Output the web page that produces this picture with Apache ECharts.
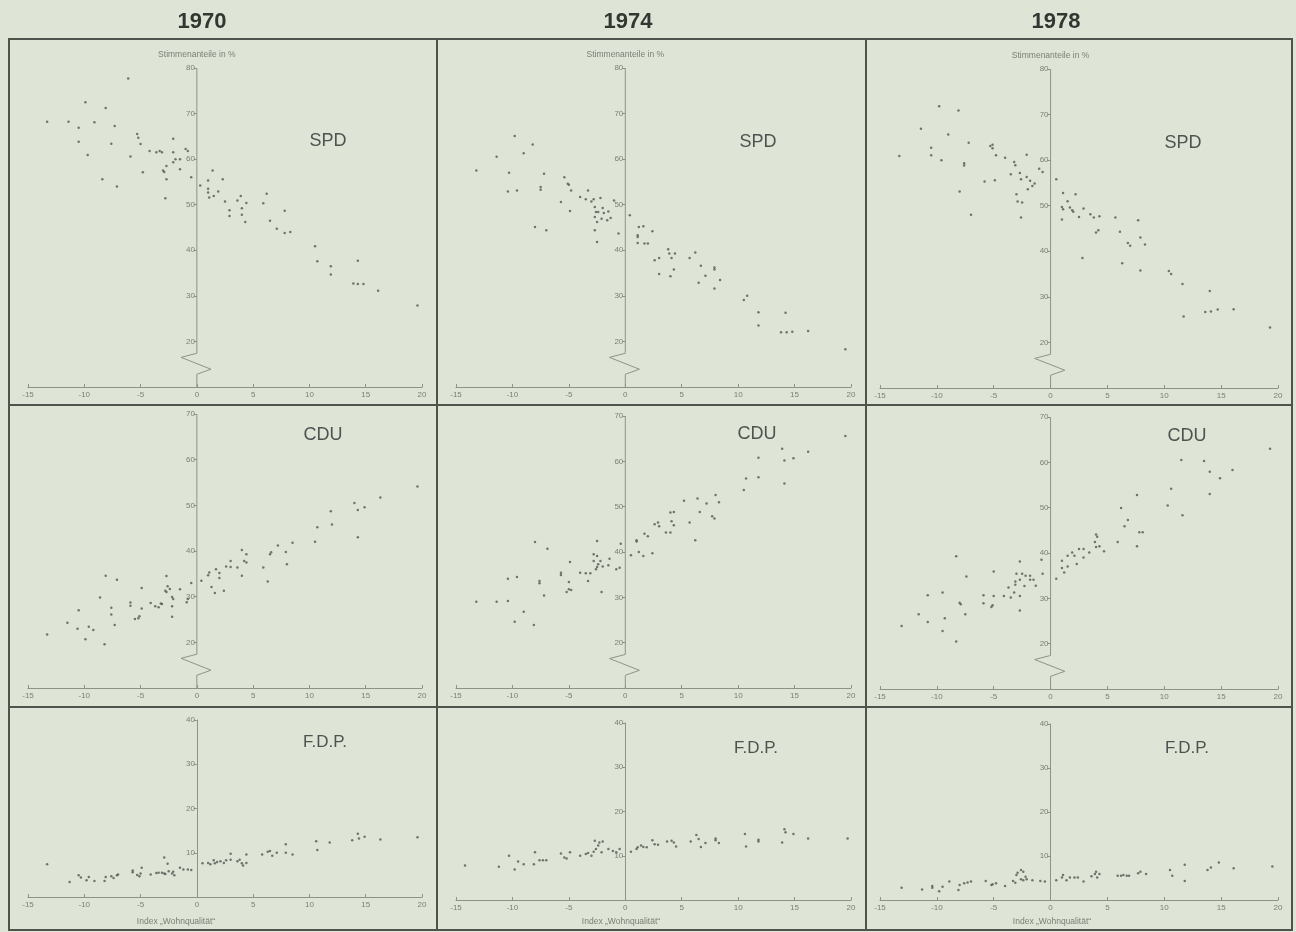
<!DOCTYPE html>
<html><head><meta charset="utf-8">
<script src="https://cdn.jsdelivr.net/npm/echarts@6/dist/echarts.min.js"></script>
<style>html,body{margin:0;padding:0;background:#dee5d6;}#c{width:1296px;height:932px;}</style>
</head><body><div id="c"></div>
<script>
// ---------- DATA ----------
const years = ['1970', '1974', '1978'];
const parties = ['SPD', 'CDU', 'F.D.P.'];
const xTicks = [-15, -10, -5, 0, 5, 10, 15, 20];
const yTicksSPD = [20, 30, 40, 50, 60, 70, 80];
const yTicksCDU = [20, 30, 40, 50, 60, 70];
const yTicksFDP = [10, 20, 30, 40];
const yRangeSPD = [10, 80];
const yRangeCDU = [10, 70];
const yRangeFDP = [0, 40];
const yAxisTitle = 'Stimmenanteile in %';
const xAxisTitle = 'Index \u201EWohnqualit\u00E4t\u201C';
const breakMark = [[0, 17.4], [-1.4, 16.5], [1.25, 13.9], [0, 12.8]];

const spd1970 = [[-13.3,68.2],[-11.4,68.2],[-10.5,66.9],[-10.5,63.8],[-9.9,72.5],[-9.7,60.9],[-9.1,68.1],[-8.4,55.6],[-8.1,71.2],[-7.6,63.4],[-7.3,67.3],[-7.1,54.0],[-6.1,77.7],[-5.9,60.6],[-5.3,65.5],[-5.2,64.7],[-5.0,63.3],[-4.8,57.1],[-4.2,61.8],[-3.6,61.5],[-3.3,61.8],[-3.1,61.5],[-3.0,57.5],[-2.9,57.2],[-2.7,58.5],[-2.7,55.6],[-2.8,51.4],[-2.1,64.5],[-2.1,59.3],[-2.1,61.5],[-1.9,60.0],[-1.5,57.8],[-1.5,60.0],[-1.0,62.2],[-0.8,61.8],[-0.5,56.0],[0.3,54.2],[1.0,55.3],[1.0,53.5],[1.0,52.7],[1.1,51.6],[1.4,57.5],[1.5,51.9],[1.9,52.9],[2.3,55.6],[2.5,50.7],[2.9,48.8],[2.9,47.5],[3.6,50.9],[3.9,51.9],[4.0,49.2],[4.0,47.8],[4.3,46.2],[4.4,50.4],[5.9,50.3],[6.2,52.4],[6.5,46.5],[7.1,44.7],[7.8,48.7],[7.8,43.8],[8.3,44.0],[10.5,40.9],[10.7,37.6],[11.9,36.5],[11.9,34.7],[14.3,37.7],[13.9,32.7],[14.3,32.6],[14.8,32.6],[16.1,31.1],[19.6,27.9]];
const spd1974 = [[-13.2,57.5],[-11.4,60.5],[-10.3,57.0],[-10.4,52.9],[-9.8,65.1],[-9.6,53.1],[-9.0,61.3],[-8.2,63.2],[-8.0,45.1],[-7.5,53.3],[-7.5,53.9],[-7.2,56.8],[-7.0,44.4],[-5.7,50.6],[-5.4,56.0],[-5.1,54.6],[-5.0,54.4],[-4.8,53.1],[-4.9,48.6],[-4.0,51.7],[-3.5,51.2],[-3.3,53.1],[-3.0,50.7],[-2.8,51.2],[-2.7,49.5],[-2.7,47.3],[-2.6,48.4],[-2.4,48.4],[-2.5,46.2],[-2.7,44.4],[-2.5,41.8],[-2.2,51.5],[-2.1,46.9],[-2.0,49.3],[-1.9,48.2],[-1.6,46.6],[-1.5,48.5],[-1.3,47.1],[-1.0,50.9],[-0.6,43.7],[0.4,47.7],[1.1,43.3],[1.1,42.9],[1.2,45.1],[1.1,41.6],[1.6,45.3],[1.7,41.5],[2.0,41.5],[2.4,44.2],[2.6,37.8],[3.0,38.3],[3.0,34.8],[3.8,40.2],[3.9,39.3],[4.1,38.3],[4.0,34.3],[4.4,39.3],[4.3,35.8],[5.7,38.3],[6.2,39.5],[6.5,32.9],[6.7,36.6],[7.1,34.4],[7.9,36.2],[7.9,35.8],[7.9,31.6],[8.4,33.5],[10.5,29.1],[10.8,30.0],[11.8,26.4],[11.8,23.5],[13.8,22.0],[14.2,26.3],[14.3,22.0],[14.8,22.1],[16.2,22.3],[19.5,18.3]];
const spd1978 = [[-13.3,60.9],[-11.4,66.9],[-10.5,62.7],[-10.5,61.1],[-9.8,71.8],[-9.6,60.0],[-9.0,65.6],[-8.1,70.9],[-8.0,53.1],[-7.6,59.3],[-7.6,58.8],[-7.2,63.8],[-7.0,48.0],[-5.8,55.3],[-5.3,63.1],[-5.1,63.4],[-5.1,62.6],[-4.9,55.6],[-4.8,61.1],[-4.0,60.5],[-3.5,56.9],[-3.2,59.6],[-3.1,58.9],[-3.0,52.5],[-2.9,50.9],[-2.5,50.7],[-2.7,57.2],[-2.6,55.8],[-2.6,47.4],[-2.1,61.2],[-2.1,56.3],[-2.0,53.6],[-1.8,55.5],[-1.6,54.3],[-1.4,54.9],[-1.0,58.1],[-0.7,57.4],[0.5,55.8],[1.0,49.7],[1.1,49.2],[1.1,52.8],[1.0,47.0],[1.5,51.0],[1.7,49.6],[1.9,49.0],[2.0,48.7],[2.2,52.5],[2.5,47.5],[2.8,38.5],[2.9,49.4],[3.5,48.1],[3.8,47.4],[4.0,44.1],[4.2,44.6],[4.3,47.7],[5.7,47.4],[6.1,44.3],[6.3,37.4],[6.8,41.8],[7.0,41.2],[7.7,46.8],[7.9,43.0],[7.9,35.8],[8.3,41.5],[10.4,35.7],[10.6,35.0],[11.6,32.8],[11.7,25.7],[13.6,26.7],[14.0,31.3],[14.1,26.8],[14.7,27.2],[16.1,27.3],[19.3,23.3]];
const cdu1970 = [[-13.3,21.7],[-11.5,24.3],[-10.6,23.0],[-10.5,27.0],[-9.9,20.7],[-9.6,23.4],[-9.2,22.7],[-8.6,29.8],[-8.2,19.6],[-8.1,34.6],[-7.6,27.6],[-7.6,26.1],[-7.3,23.8],[-7.1,33.7],[-5.9,28.7],[-5.9,28.0],[-5.5,25.1],[-5.2,25.3],[-5.1,25.7],[-4.9,31.9],[-4.9,27.4],[-4.1,28.6],[-3.7,27.9],[-3.4,27.7],[-3.2,28.5],[-3.1,28.4],[-2.8,31.3],[-2.7,31.0],[-2.7,34.5],[-2.6,32.3],[-2.4,31.7],[-2.2,29.9],[-2.1,29.5],[-2.2,27.9],[-2.2,25.6],[-1.5,31.6],[-0.9,28.8],[-0.8,29.5],[-0.5,33.0],[0.4,33.5],[1.0,34.7],[1.1,35.3],[1.3,32.1],[1.6,30.8],[1.7,36.0],[2.0,35.2],[2.0,34.1],[2.4,31.3],[2.6,36.6],[3.0,37.8],[3.0,36.5],[3.6,36.4],[4.0,40.2],[4.0,34.6],[4.2,37.8],[4.4,37.5],[4.4,39.3],[5.9,36.4],[6.3,33.3],[6.5,39.3],[6.6,39.7],[7.2,41.2],[7.9,39.8],[8.0,37.1],[8.5,41.8],[10.5,42.0],[10.7,45.2],[11.9,48.7],[12.0,45.8],[14.0,50.5],[14.3,49.0],[14.3,43.0],[14.9,49.6],[16.3,51.7],[19.6,54.1]];
const cdu1974 = [[-13.2,29.0],[-11.4,29.0],[-10.4,29.2],[-10.4,34.1],[-9.8,24.6],[-9.6,34.5],[-9.0,26.8],[-8.1,23.9],[-8.0,42.2],[-7.6,33.6],[-7.6,33.1],[-7.2,30.4],[-6.9,40.7],[-5.7,35.4],[-5.7,34.9],[-5.2,31.2],[-5.0,31.8],[-4.8,31.6],[-5.0,33.4],[-4.9,37.8],[-4.0,35.4],[-3.5,35.3],[-3.1,35.3],[-3.3,33.6],[-2.8,39.5],[-2.8,38.0],[-2.6,36.2],[-2.5,36.7],[-2.5,42.4],[-2.5,39.1],[-2.4,37.3],[-2.2,38.0],[-2.1,31.2],[-2.0,36.8],[-1.5,37.1],[-1.4,38.5],[-0.8,36.2],[-0.5,36.5],[-0.4,41.8],[0.5,39.3],[1.0,42.3],[1.0,42.6],[1.2,40.0],[1.6,39.1],[1.7,44.0],[2.0,43.5],[2.4,39.7],[2.6,46.1],[2.9,46.5],[3.0,45.7],[3.6,44.3],[4.0,44.3],[4.0,48.7],[4.1,46.8],[4.3,48.8],[4.3,45.9],[5.2,51.3],[5.7,46.5],[6.2,42.6],[6.4,51.8],[6.6,48.8],[7.2,50.7],[7.7,47.9],[7.9,47.4],[8.0,52.6],[8.3,51.0],[10.5,53.7],[10.7,56.2],[11.8,60.8],[11.8,56.5],[13.9,62.8],[14.1,55.1],[14.1,60.2],[14.9,60.7],[16.2,62.1],[19.5,65.6]];
const cdu1978 = [[-13.1,23.9],[-11.6,26.5],[-10.8,30.7],[-10.8,24.8],[-9.5,31.3],[-9.5,22.8],[-9.3,25.6],[-8.3,39.3],[-8.3,20.5],[-8.0,29.0],[-7.9,28.7],[-7.5,26.5],[-7.4,34.8],[-5.9,30.7],[-5.9,28.9],[-5.2,28.1],[-5.1,28.5],[-5.0,30.5],[-5.0,35.9],[-4.1,30.5],[-3.7,32.4],[-3.5,30.2],[-3.2,31.3],[-3.1,33.0],[-3.1,33.7],[-3.0,35.4],[-2.7,30.5],[-2.7,38.1],[-2.7,34.1],[-2.7,27.3],[-2.5,35.4],[-2.3,32.7],[-2.2,35.0],[-1.8,34.1],[-1.5,34.1],[-1.8,35.0],[-1.3,32.8],[-0.8,38.5],[-0.7,35.4],[0.5,34.3],[1.0,38.3],[1.0,36.7],[1.2,35.7],[1.5,39.4],[1.5,37.0],[1.9,40.1],[2.1,39.4],[2.3,37.6],[2.5,40.9],[2.9,40.9],[2.9,39.0],[3.4,40.1],[3.9,42.4],[4.0,44.1],[4.1,43.6],[4.0,41.3],[4.3,41.5],[4.7,40.4],[5.9,42.4],[6.2,49.9],[6.5,45.9],[6.8,47.3],[7.6,52.8],[7.6,41.5],[7.8,44.6],[8.1,44.6],[10.3,50.5],[10.6,54.2],[11.5,60.5],[11.6,48.3],[13.5,60.3],[14.0,57.9],[14.0,53.0],[14.9,56.5],[16.0,58.3],[19.3,63.0]];
const fdp1970 = [[-13.3,7.4],[-11.3,3.4],[-10.5,4.9],[-10.3,4.4],[-9.8,3.8],[-9.6,4.5],[-9.1,3.6],[-8.2,3.6],[-8.1,4.5],[-7.6,4.7],[-7.4,4.3],[-7.1,4.9],[-7.0,5.1],[-5.7,6.0],[-5.7,5.6],[-5.3,5.0],[-5.1,4.7],[-5.0,5.3],[-4.9,6.6],[-4.1,5.1],[-3.6,5.4],[-3.4,5.5],[-3.1,5.5],[-2.9,5.3],[-2.9,8.9],[-2.8,5.2],[-2.6,7.5],[-2.5,5.8],[-2.2,5.3],[-2.1,5.7],[-2.0,4.9],[-1.5,6.6],[-1.2,6.2],[-0.8,6.2],[-0.5,6.1],[0.5,7.6],[1.0,7.7],[1.2,7.4],[1.5,8.3],[1.6,7.6],[1.8,7.9],[2.1,8.1],[2.4,7.7],[2.6,8.3],[3.0,9.8],[3.0,8.4],[3.6,8.1],[3.8,8.4],[4.0,7.6],[4.1,7.1],[4.4,9.6],[4.4,7.7],[5.8,9.6],[6.3,10.2],[6.5,10.4],[6.7,9.3],[7.1,10.0],[7.9,11.9],[7.9,10.0],[8.5,9.6],[10.6,12.6],[10.7,10.6],[11.8,12.3],[13.8,12.8],[14.3,14.3],[14.4,13.2],[14.9,13.6],[16.3,13.0],[19.6,13.5]];
const fdp1974 = [[-14.2,7.8],[-11.2,7.5],[-10.3,10.0],[-9.8,6.9],[-9.5,8.7],[-9.0,8.1],[-8.1,8.1],[-8.0,10.8],[-7.6,9.0],[-7.3,9.0],[-7.0,9.0],[-5.7,10.5],[-5.4,9.6],[-5.2,9.4],[-4.9,10.8],[-4.0,10.0],[-3.5,10.4],[-3.3,10.6],[-3.0,10.0],[-2.8,10.9],[-2.7,13.4],[-2.6,11.5],[-2.4,12.3],[-2.3,13.0],[-2.1,10.8],[-2.0,13.2],[-1.5,11.5],[-1.1,11.1],[-0.8,10.8],[-0.5,11.5],[0.5,10.9],[1.0,11.5],[1.1,11.9],[1.4,12.3],[1.6,12.0],[1.9,11.9],[2.4,13.5],[2.6,12.6],[2.9,12.5],[3.7,13.2],[4.1,13.4],[4.3,13.0],[4.5,12.1],[5.8,13.2],[6.3,14.7],[6.5,13.8],[6.7,12.0],[7.1,12.9],[8.0,13.9],[8.0,13.5],[8.3,12.9],[10.6,14.9],[10.7,12.1],[11.8,13.6],[11.8,13.2],[13.9,13.0],[14.1,16.0],[14.2,15.3],[14.9,14.9],[16.2,13.9],[19.7,13.9]];
const fdp1978 = [[-13.1,2.8],[-11.3,2.4],[-10.4,3.2],[-10.4,2.8],[-9.8,2.0],[-9.5,3.0],[-8.9,4.2],[-8.1,2.3],[-8.0,3.4],[-7.6,3.8],[-7.3,4.0],[-7.0,4.2],[-5.7,4.3],[-5.2,3.4],[-5.1,3.6],[-4.8,3.8],[-4.0,3.2],[-3.3,4.3],[-3.1,3.9],[-3.0,5.7],[-2.9,6.2],[-2.6,6.8],[-2.6,4.7],[-2.4,6.4],[-2.4,4.5],[-2.2,5.3],[-2.1,4.7],[-1.6,4.5],[-0.9,4.3],[-0.5,4.2],[0.5,4.5],[1.0,5.1],[1.1,5.7],[1.4,4.5],[1.7,5.1],[2.1,5.1],[2.4,5.1],[2.9,4.2],[3.6,5.4],[3.9,5.9],[4.0,6.4],[4.1,5.1],[4.3,5.9],[5.9,5.5],[6.2,5.5],[6.4,5.7],[6.7,5.5],[6.9,5.5],[7.7,6.1],[7.9,6.4],[8.4,5.9],[10.5,6.8],[10.7,5.5],[11.8,8.0],[11.8,4.3],[13.8,6.8],[14.1,7.4],[14.8,8.5],[16.1,7.2],[19.5,7.6]];

// ---------- LAYOUT / STYLE ----------
const panelData = [[spd1970, spd1974, spd1978], [cdu1970, cdu1974, cdu1978], [fdp1970, fdp1974, fdp1978]];
const yTicksByRow = [yTicksSPD, yTicksCDU, yTicksFDP];
const yRangeByRow = [yRangeSPD, yRangeCDU, yRangeFDP];
const colLeft = [28, 456, 880];
const colWidth = [394, 395, 398];
const rowTop = [[68, 68, 69], [414, 416, 417], [720, 723, 724]];
const rowBottom = [[387, 387, 388], [688, 688, 689], [897, 900, 900]];
const titleX = [202, 628, 1056];
const partyPos = [[[328, 141], [758, 142], [1183, 143]], [[323, 435], [757, 434], [1187, 436]], [[325, 742], [756, 748], [1187, 748]]];
const xTitleX = [176, 621, 1052];
const axisCol = '#8e938a';
const labelCol = '#7a7f77';
const dotCol = '#555854';
const frameCol = '#50534c';
const fontLab = '"Liberation Sans", Arial, sans-serif';

const xMin = xTicks[0], xMax = xTicks[xTicks.length - 1];
const grid = [], xAxis = [], yAxis = [], series = [], graphic = [];
for (let r = 0; r < 3; r++) {
  for (let c = 0; c < 3; c++) {
    const i = r * 3 + c;
    const [ymin, ymax] = yRangeByRow[r];
    // shift the y axis from the grid's left edge to x = 0 of the x scale
    const zeroShift = colWidth[c] * (0 - xMin) / (xMax - xMin);
    grid.push({ left: colLeft[c], top: rowTop[r][c], width: colWidth[c], height: rowBottom[r][c] - rowTop[r][c] });
    xAxis.push({
      gridIndex: i, type: 'value', min: xMin, max: xMax, interval: 5,
      axisLine: { onZero: false, lineStyle: { color: axisCol, width: 1 } },
      axisTick: { inside: true, length: 3, lineStyle: { color: axisCol } },
      axisLabel: { fontSize: 8, color: labelCol, margin: 4, fontFamily: fontLab },
      splitLine: { show: false }
    });
    yAxis.push({
      gridIndex: i, type: 'value', min: ymin, max: ymax, interval: 10,
      position: 'left', offset: -zeroShift,
      axisLine: { show: r === 2, onZero: false, lineStyle: { color: axisCol, width: 1 } },
      axisTick: { length: 3, customValues: yTicksByRow[r], lineStyle: { color: axisCol } },
      axisLabel: { customValues: yTicksByRow[r], fontSize: 8, color: labelCol, margin: 2, fontFamily: fontLab },
      splitLine: { show: false },
      name: r === 0 ? yAxisTitle : '', nameLocation: 'end', nameGap: 9,
      nameTextStyle: { fontSize: 8.5, color: labelCol, fontFamily: fontLab, align: 'center' }
    });
    series.push({
      type: 'scatter', xAxisIndex: i, yAxisIndex: i, data: panelData[r][c],
      symbol: 'circle', symbolSize: 2.5, itemStyle: { color: dotCol }, silent: true
    });
    if (r < 2) {
      series.push({
        type: 'line', xAxisIndex: i, yAxisIndex: i,
        data: [[0, ymax]].concat(breakMark, [[0, ymin]]),
        symbol: 'none', lineStyle: { color: axisCol, width: 1 }, silent: true, z: 1
      });
    }
    graphic.push({
      type: 'text', x: partyPos[r][c][0], y: partyPos[r][c][1],
      style: { text: parties[r], fill: '#505250', align: 'center', verticalAlign: 'middle',
        font: (r === 2 ? '17px "Liberation Sans"' : '18px "Liberation Sans"') }
    });
  }
}
for (let c = 0; c < 3; c++) {
  graphic.push({ type: 'text', x: titleX[c], y: 22,
    style: { text: years[c], fill: '#333631', align: 'center', verticalAlign: 'middle', font: 'bold 22px "Liberation Sans"' } });
  graphic.push({ type: 'text', x: xTitleX[c], y: 922,
    style: { text: xAxisTitle, fill: labelCol, align: 'center', verticalAlign: 'middle', font: '8.5px "Liberation Sans"' } });
}
// frame
graphic.push({ type: 'rect', shape: { x: 9, y: 39, width: 1283, height: 891 }, style: { fill: 'none', stroke: frameCol, lineWidth: 2 } });
[437, 866].forEach(x => graphic.push({ type: 'line', shape: { x1: x, y1: 39, x2: x, y2: 930 }, style: { stroke: frameCol, lineWidth: 2 } }));
[405, 707].forEach(y => graphic.push({ type: 'line', shape: { x1: 9, y1: y, x2: 1292, y2: y }, style: { stroke: frameCol, lineWidth: 2 } }));

const chart = echarts.init(document.getElementById('c'), null, { renderer: 'canvas' });
chart.setOption({ backgroundColor: '#dee5d6', animation: false, grid, xAxis, yAxis, series, graphic });
</script></body></html>
